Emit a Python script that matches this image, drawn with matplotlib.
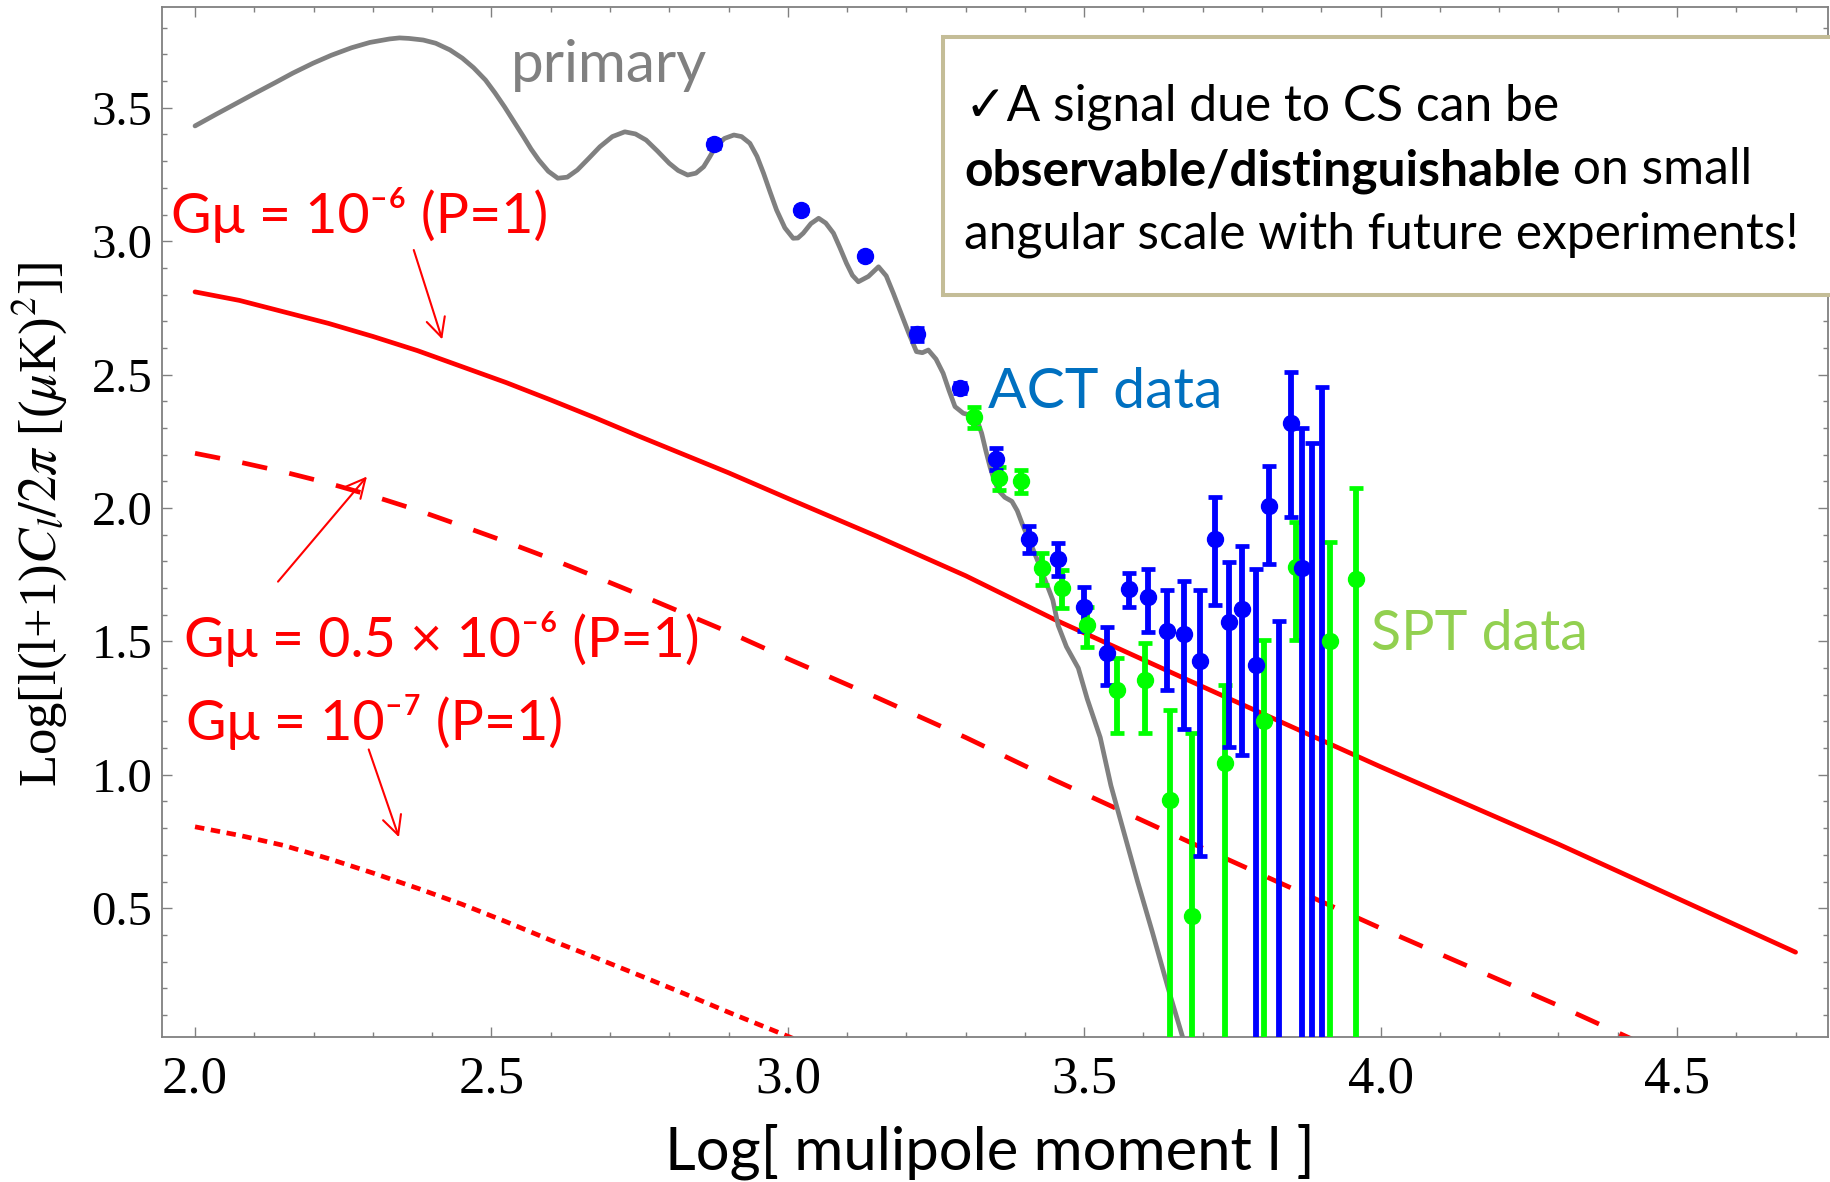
import matplotlib.pyplot as plt
from matplotlib.patches import Rectangle
from matplotlib.ticker import MultipleLocator

# primary CMB spectrum (gray curve)
primary_x = [2.000, 2.035, 2.070, 2.100, 2.135, 2.165, 2.199, 2.230, 2.264, 2.295,
             2.328, 2.345, 2.361, 2.385, 2.406, 2.430, 2.451, 2.470, 2.490, 2.506,
             2.522, 2.538, 2.554, 2.567, 2.580, 2.596, 2.612, 2.628, 2.645, 2.664,
             2.683, 2.704, 2.725, 2.743, 2.761, 2.780, 2.800, 2.815, 2.831, 2.845,
             2.858, 2.868, 2.877, 2.893, 2.909, 2.922, 2.936, 2.948, 2.959, 2.970,
             2.981, 2.995, 3.009, 3.017, 3.026, 3.039, 3.052, 3.064, 3.077, 3.088,
             3.099, 3.109, 3.119, 3.136, 3.153, 3.166, 3.178, 3.191, 3.204, 3.217,
             3.227, 3.237, 3.250, 3.262, 3.272, 3.282, 3.296, 3.305, 3.313, 3.320,
             3.327, 3.334, 3.341, 3.348, 3.355, 3.366, 3.378, 3.387, 3.395, 3.404,
             3.414, 3.424, 3.434, 3.441, 3.447, 3.456, 3.470, 3.490, 3.505, 3.527,
             3.545, 3.565, 3.590, 3.615, 3.644, 3.666, 3.690]
primary_y = [3.432, 3.475, 3.517, 3.553, 3.594, 3.630, 3.667, 3.697, 3.725, 3.745,
             3.758, 3.762, 3.760, 3.754, 3.742, 3.717, 3.686, 3.650, 3.604, 3.556,
             3.504, 3.448, 3.392, 3.345, 3.304, 3.262, 3.236, 3.240, 3.267, 3.310,
             3.354, 3.392, 3.410, 3.402, 3.379, 3.338, 3.292, 3.265, 3.248, 3.255,
             3.279, 3.315, 3.350, 3.385, 3.398, 3.392, 3.367, 3.318, 3.255, 3.185,
             3.117, 3.050, 3.011, 3.012, 3.030, 3.066, 3.086, 3.068, 3.030, 2.975,
             2.917, 2.872, 2.848, 2.868, 2.904, 2.870, 2.805, 2.730, 2.655, 2.586,
             2.582, 2.592, 2.558, 2.505, 2.440, 2.380, 2.355, 2.350, 2.349, 2.325,
             2.280, 2.215, 2.155, 2.105, 2.067, 2.040, 2.025, 1.990, 1.943, 1.895,
             1.843, 1.788, 1.730, 1.690, 1.655, 1.560, 1.480, 1.400, 1.285, 1.140,
             0.960, 0.800, 0.600, 0.410, 0.181, 0.017, -0.160]

# cosmic string spectra (red curves)
string_x = [2.0, 2.075, 2.15, 2.225, 2.3, 2.375, 2.45, 2.525, 2.6, 2.675,
            2.75, 2.825, 2.9, 3.0, 3.15, 3.3, 3.45, 3.7, 4.0, 4.3, 4.7]
gmu_1e6 = [2.810, 2.778, 2.735, 2.692, 2.643, 2.590, 2.530, 2.470, 2.405, 2.338,
           2.268, 2.200, 2.132, 2.036, 1.894, 1.746, 1.582, 1.330, 1.030, 0.740, 0.335]
gmu_05e6 = [2.205, 2.172, 2.135, 2.093, 2.045, 1.992, 1.933, 1.873, 1.810, 1.743,
            1.675, 1.605, 1.535, 1.435, 1.290, 1.140, 0.980, 0.725, 0.425, 0.135, -0.270]
dotted_x = [2.0, 2.075, 2.15, 2.225, 2.3, 2.375, 2.45, 2.525, 2.6, 2.675,
            2.75, 2.825, 2.9, 3.0, 3.15]
gmu_1e7 = [0.805, 0.773, 0.735, 0.686, 0.632, 0.575, 0.515, 0.449, 0.380, 0.315,
           0.248, 0.180, 0.110, 0.020, -0.120]

# ACT data (blue), points below the frame are hidden
act_x = [2.875, 3.022, 3.131, 3.218, 3.290, 3.352, 3.407, 3.455, 3.499, 3.538,
         3.575, 3.608, 3.640, 3.669, 3.695, 3.721, 3.745, 3.767, 3.790, 3.811,
         3.829, 3.848, 3.867, 3.884, 3.901]
act_y = [3.364, 3.117, 2.945, 2.651, 2.450, 2.184, 1.884, 1.809, 1.630, 1.458,
         1.695, 1.667, 1.540, 1.528, 1.427, 1.883, 1.574, 1.620, 1.412, 2.009,
         -0.40, 2.320, 1.774, -0.40, -0.40]
act_hi = [3.380, 3.127, 2.955, 2.675, 2.470, 2.224, 1.934, 1.868, 1.705, 1.555,
          1.755, 1.770, 1.693, 1.726, 1.693, 2.042, 1.799, 1.858, 1.770, 2.157,
          1.576, 2.511, 2.299, 2.245, 2.455]
act_lo = [3.348, 3.107, 2.935, 2.627, 2.430, 2.144, 1.831, 1.745, 1.540, 1.337,
          1.630, 1.536, 1.318, 1.171, 0.694, 1.636, 1.106, 1.074, -1.0, 1.790,
          -1.0, 1.967, -1.0, -1.0, -1.0]

# SPT data (green)
spt_x = [3.314, 3.357, 3.393, 3.428, 3.462, 3.504, 3.555, 3.602, 3.644, 3.682,
         3.737, 3.804, 3.857, 3.914, 3.958]
spt_y = [2.342, 2.111, 2.101, 1.774, 1.699, 1.561, 1.318, 1.355, 0.904, 0.471,
         1.044, 1.200, 1.778, 1.501, 1.734]
spt_hi = [2.380, 2.155, 2.142, 1.832, 1.768, 1.630, 1.439, 1.493, 1.243, 1.155,
          1.336, 1.504, 1.949, 1.874, 2.074]
spt_lo = [2.299, 2.067, 2.055, 1.711, 1.627, 1.480, 1.155, 1.155, -1.0, -1.0,
          -1.0, -1.0, 1.507, -1.0, -1.0]

x_ticks = [2.0, 2.5, 3.0, 3.5, 4.0, 4.5]
y_ticks = [0.5, 1.0, 1.5, 2.0, 2.5, 3.0, 3.5]

W, H = 1831, 1182
sans = ['Lato', 'DejaVu Sans']

fig = plt.figure(figsize=(W / 100, H / 100), dpi=100)
ax = fig.add_axes([162 / W, 1 - 1037 / H, (1828 - 162) / W, (1037 - 7) / H])

line_kw = dict(lw=3.4, solid_joinstyle='round', solid_capstyle='round')
ax.plot(string_x, gmu_1e6, color='red', zorder=2, **line_kw)
ax.plot(string_x, gmu_05e6, color='red', lw=3.4, dashes=(5.4, 4.8), zorder=2)
ax.plot(dotted_x, gmu_1e7, color='red', lw=3.4, dashes=(2.0, 1.4), zorder=2)
ax.plot(primary_x, primary_y, color='#808080', zorder=3, **line_kw)


def draw_data(x, y, lo, hi, color):
    yerr = [[yy - l for yy, l in zip(y, lo)], [h - yy for yy, h in zip(y, hi)]]
    ax.errorbar(x, y, yerr=yerr, fmt='o', color=color, ms=11.5, elinewidth=4.2,
                capsize=5.2, capthick=3.4, zorder=4)


draw_data(spt_x, spt_y, spt_lo, spt_hi, '#00ff00')
draw_data(act_x, act_y, act_lo, act_hi, '#0000ff')

ax.set_xlim(1.9443, 4.7547)
ax.set_ylim(0.0172, 3.8778)
ax.set_xticks(x_ticks)
ax.set_yticks(y_ticks)
ax.set_xticklabels(['%.1f' % v for v in x_ticks])
ax.set_yticklabels(['%.1f' % v for v in y_ticks])
ax.xaxis.set_minor_locator(MultipleLocator(0.1))
ax.yaxis.set_minor_locator(MultipleLocator(0.1))
ax.tick_params(which='both', direction='in', top=True, right=True,
               color='#808080', width=1.0)
ax.tick_params(which='major', length=7.2)
ax.tick_params(which='minor', length=3.6)
ax.tick_params(axis='x', pad=13)
ax.tick_params(axis='y', pad=7)
for lab in ax.get_xticklabels():
    lab.set_fontfamily('Liberation Serif')
    lab.set_fontsize(38)
for lab in ax.get_yticklabels():
    lab.set_fontfamily('Liberation Serif')
    lab.set_fontsize(35)
for sp in ax.spines.values():
    sp.set_color('#808080')
    sp.set_linewidth(1.3)

# curve labels
ax.text(1.959, 3.030, 'G\u03bc = 10\u207b\u2076 (P=1)', color='red', fontsize=40,
        family=sans, va='baseline')
ax.text(1.9816, 1.440, 'G\u03bc = 0.5 \u00d7 10\u207b\u2076 (P=1)', color='red', fontsize=40,
        family=sans, va='baseline')
ax.text(1.9846, 1.130, 'G\u03bc = 10\u207b\u2077 (P=1)', color='red', fontsize=40,
        family=sans, va='baseline')
ax.text(2.532, 3.598, 'primary', color='#808080', fontsize=42, family=sans, va='baseline')
ax.text(3.338, 2.374, 'ACT data', color='#0070c0', fontsize=41, family=sans, va='baseline')
ax.text(3.984, 1.468, 'SPT data', color='#92d050', fontsize=40, family=sans, va='baseline')

arrow = dict(arrowstyle='->', color='red', lw=1.5, mutation_scale=34, shrinkA=0, shrinkB=0)
ax.annotate('', xy=(2.417, 2.632), xytext=(2.369, 2.967), arrowprops=arrow)
ax.annotate('', xy=(2.290, 2.118), xytext=(2.140, 1.724), arrowprops=arrow)
ax.annotate('', xy=(2.344, 0.766), xytext=(2.293, 1.095), arrowprops=arrow)

# text box in the upper right
box = Rectangle((942.8 / W, 1 - 295 / H), (1850 - 942.8) / W, (295 - 37.3) / H,
                transform=fig.transFigure, facecolor='white', edgecolor='#c4bd97',
                lw=2.9, clip_on=False, zorder=5)
ax.add_patch(box)
ax.text(965 / W, 1 - 120 / H, '\u2713A signal due to CS can be', transform=fig.transFigure,
        fontsize=35.8, family=sans, va='baseline', zorder=6)
t_bold = ax.text(964 / W, 1 - 185 / H, 'observable/distinguishable', transform=fig.transFigure,
                 fontsize=35.8, family=sans, weight='bold', va='baseline', zorder=6)
ax.annotate(' on small', xy=(1, 0), xycoords=t_bold, fontsize=35.8, family=sans,
            va='bottom', ha='left', zorder=6)
ax.text(964 / W, 1 - 248.3 / H, 'angular scale with future experiments!',
        transform=fig.transFigure, fontsize=35.8, family=sans, va='baseline', zorder=6)

# axis titles
fig.text(39 / W, 1 - 524 / H, r'Log[l(l+1)$C_l/2\pi$ [($\mu$K)$^2$]]', rotation=90,
         ha='center', va='center', fontsize=38, family='Liberation Serif',
         math_fontfamily='stix')
fig.text(990 / W, 1 - 1170 / H, 'Log[ mulipole moment l ]', ha='center', va='baseline',
         fontsize=43, family=sans)

fig.savefig('out.png', dpi=100)
